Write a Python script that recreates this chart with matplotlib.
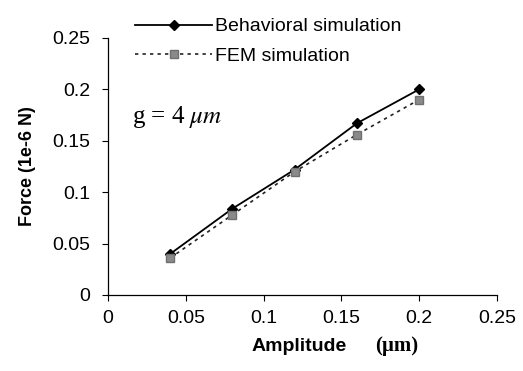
import numpy as np
import matplotlib.pyplot as plt

plt.rcParams['font.family'] = ['Liberation Sans', 'DejaVu Sans']
plt.rcParams['mathtext.fontset'] = 'stix'

amplitude = [0.04, 0.08, 0.12, 0.16, 0.2]
force_behav = [0.040, 0.084, 0.122, 0.167, 0.200]
force_fem = [0.036, 0.078, 0.120, 0.156, 0.190]

xticks = [0, 0.05, 0.1, 0.15, 0.2, 0.25]
yticks = [0, 0.05, 0.1, 0.15, 0.2, 0.25]
ticklabels = ['0', '0.05', '0.1', '0.15', '0.2', '0.25']

fig = plt.figure(figsize=(5.23, 3.71), dpi=100)
ax = fig.add_axes([0.2065, 0.2049, 0.7435, 0.6927])

ax.plot(amplitude, force_behav, '-', color='black', lw=1.3,
        marker='D', ms=5, mfc='black', mec='black',
        label='Behavioral simulation')
ax.plot(amplitude, force_fem, color='#222222', lw=1.2, dashes=(2, 2.5),
        marker='s', ms=6, mfc='#8a8a8a', mec='#707070',
        label='FEM simulation')

ax.set_xlim(0, 0.25)
ax.set_ylim(0, 0.25)
ax.set_xticks(xticks)
ax.set_yticks(yticks)
ax.set_xticklabels(ticklabels, fontsize=14)
ax.set_yticklabels(ticklabels, fontsize=14)
ax.tick_params(direction='out', length=4, width=0.8)
ax.tick_params(axis='x', pad=7)
ax.tick_params(axis='y', pad=9)

for s in ['top', 'right']:
    ax.spines[s].set_visible(False)
for s in ['left', 'bottom']:
    ax.spines[s].set_linewidth(0.9)

ax.set_ylabel('Force (1e-6 N)', fontsize=13, fontweight='bold')
ax.yaxis.set_label_coords(-0.185, 0.5)

fig.text(0.6635, 0.067, 'Amplitude', fontsize=14, fontweight='bold',
         ha='right', va='center')
fig.text(0.717, 0.067, '(\u00b5m)', fontsize=15, fontweight='bold',
         family='Liberation Serif', ha='left', va='center')

ax.text(0.0154, 0.173, r'g = 4 $\mu m$', fontsize=18, family='Liberation Serif',
        va='center', ha='left')

leg = fig.legend(handles=ax.get_lines(), loc='upper left',
                 bbox_to_anchor=(0.258, 0.952), bbox_transform=fig.transFigure,
                 frameon=False, fontsize=14, handlelength=3.97, handletextpad=0.15,
                 labelspacing=0.6, borderaxespad=0, borderpad=0)

fig.savefig('out.png', dpi=100)
